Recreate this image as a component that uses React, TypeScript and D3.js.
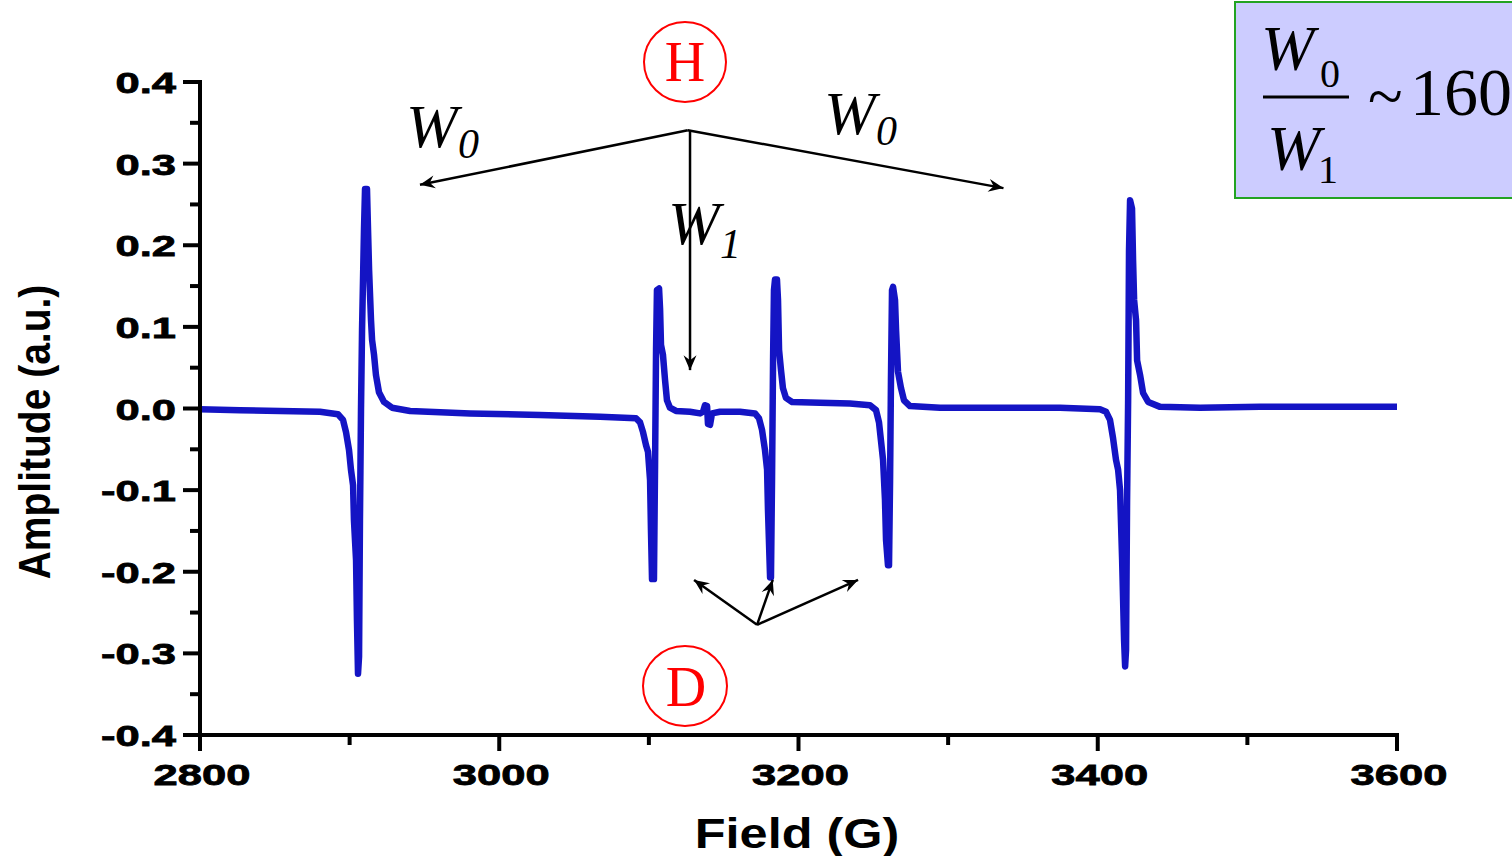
import React, { useEffect } from "react";
import * as d3 from "d3";

// EPR spectrum: magnetic field (G) vs. first-derivative amplitude (a.u.)
const fieldG: number[] = [
  2800, 2826.7, 2853.5, 2880.2, 2892.2, 2895.6, 2897.6, 2899.6, 2900.9, 2902.3,
  2902.9, 2904.3, 2904.9, 2905.6, 2906.3, 2906.9, 2907.6, 2908.3, 2909.6, 2910.3,
  2911.6, 2912.3, 2913, 2914.3, 2915, 2916.3, 2917.6, 2919.6, 2923, 2928.3,
  2940.4, 2980.5, 3027.2, 3067.3, 3091.4,
  3094.1, 3096.1, 3098.1, 3099.4, 3100.8, 3101.4, 3102.1, 3103.4, 3104.1, 3104.8,
  3105.4, 3106.8, 3107.5, 3108.1, 3109.4, 3110.8, 3112.1, 3114.1, 3118.1, 3127.5,
  3134.2, 3136.2, 3137.5, 3138.9, 3139.5, 3140.9, 3142.2, 3147.5, 3160.9, 3170.9,
  3173.6, 3175.6, 3177.6, 3179, 3179.6, 3181, 3181.6, 3182.3, 3183, 3183.6,
  3184.3, 3185.6, 3186.3, 3187, 3188.3, 3189.6, 3191.6, 3195.7, 3214.4, 3234.4,
  3247.8, 3251.8, 3253.8, 3255.1, 3256.5, 3257.8, 3258.5, 3259.8, 3260.5, 3261.2,
  3261.8, 3262.5, 3263.2, 3264.5, 3265.2, 3266.5, 3268.5, 3270.5, 3274.5, 3294.6,
  3334.7, 3374.8, 3401.5, 3405.5, 3408.2, 3410.2, 3412.2, 3413.6, 3414.9, 3416.3,
  3417.6, 3418.3, 3418.9, 3419.6, 3420.3, 3420.9, 3421.6, 3422.9, 3423.6, 3424.3,
  3425.6, 3426.3, 3428.3, 3430.3, 3433.7, 3441.7, 3468.4, 3508.5, 3555.3, 3600,
];

const amplitude: number[] = [
  -0.001, -0.002, -0.003, -0.004, -0.007, -0.014, -0.029, -0.051, -0.075, -0.094,
  -0.137, -0.186, -0.259, -0.325, -0.304, -0.137, -0.002, 0.096, 0.219, 0.269,
  0.269, 0.219, 0.17, 0.108, 0.084, 0.066, 0.041, 0.02, 0.008, 0.001,
  -0.003, -0.006, -0.008, -0.01, -0.012,
  -0.017, -0.029, -0.045, -0.053, -0.088, -0.149, -0.209, -0.209, -0.075, 0.072,
  0.145, 0.147, 0.121, 0.078, 0.066, 0.035, 0.01, 0.001, -0.003, -0.004,
  -0.006, -0.004, 0.004, 0.003, -0.019, -0.02, -0.006, -0.004, -0.004, -0.006,
  -0.012, -0.026, -0.051, -0.075, -0.124, -0.207, -0.207, -0.088, 0.059, 0.145,
  0.158, 0.158, 0.133, 0.072, 0.047, 0.025, 0.013, 0.008, 0.007, 0.006,
  0.004, -0.002, -0.017, -0.039, -0.063, -0.112, -0.161, -0.192, -0.192, -0.088,
  0.035, 0.145, 0.149, 0.133, 0.096, 0.045, 0.025, 0.01, 0.003, 0.001,
  0.001, 0.001, -0.001, -0.004, -0.014, -0.036, -0.063, -0.075, -0.1, -0.186,
  -0.284, -0.316, -0.296, -0.112, 0.01, 0.194, 0.255, 0.245, 0.182, 0.133,
  0.108, 0.059, 0.041, 0.019, 0.008, 0.002, 0.001, 0.002, 0.002, 0.002,
];

const xMajorTicks: number[] = [2800, 3000, 3200, 3400, 3600];
const xMinorTicks: number[] = [2900, 3100, 3300, 3500];
const yMajorTicks: number[] = [0.4, 0.3, 0.2, 0.1, 0.0, -0.1, -0.2, -0.3, -0.4];
const yMinorTicks: number[] = [0.35, 0.25, 0.15, 0.05, -0.05, -0.15, -0.25, -0.35];

// Arrow annotations in data units: [fromField, fromAmp, toField, toAmp]
const hArrows: number[][] = [
  [3126, 0.341, 2947, 0.274],
  [3126, 0.341, 3337, 0.27],
  [3127.5, 0.341, 3127.5, 0.047],
];
const dArrows: number[][] = [
  [3172.3, -0.265, 3130.2, -0.21],
  [3172.3, -0.265, 3182.8, -0.21],
  [3172.3, -0.265, 3239.8, -0.21],
];

const W = 1512;
const H = 856;

export default function App() {
  useEffect(() => {
    document.body.style.margin = "0";
    document.body.style.overflow = "hidden";
  }, []);

  const x = d3.scaleLinear().domain([2800, 3600]).range([200, 1397]);
  const y = d3.scaleLinear().domain([-0.4, 0.4]).range([735, 82]);

  const pts: [number, number][] = fieldG.map((f, i) => [f, amplitude[i]]);
  const linePath =
    d3
      .line<[number, number]>()
      .x((d) => x(d[0]))
      .y((d) => y(d[1]))(pts) || "";

  const sans = "'Liberation Sans', Arial, sans-serif";
  const serif = "'Liberation Serif', 'Times New Roman', serif";
  // plain hyphen for negative tick values
  const tickFmt = (v: number) => d3.format(".1f")(v).replace("\u2212", "-");

  return (
    <svg
      width={W}
      height={H}
      style={{ position: "absolute", left: 0, top: 0, background: "#fff" }}
    >
      <defs>
        <marker
          id="arrowHead"
          viewBox="-16 -8 18 16"
          markerWidth={18}
          markerHeight={16}
          refX={0}
          refY={0}
          orient="auto"
          markerUnits="userSpaceOnUse"
        >
          <path d="M0,0 L-15,-6.5 L-10,0 L-15,6.5 Z" fill="#000" />
        </marker>
      </defs>

      {/* spectrum trace */}
      <path
        d={linePath}
        fill="none"
        stroke="#1414c4"
        strokeWidth={6.5}
        strokeLinejoin="round"
      />

      {/* axes */}
      <g stroke="#000" strokeWidth={4} fill="none">
        <line x1={200} y1={80} x2={200} y2={737} />
        <line x1={198} y1={735} x2={1399} y2={735} />
        {yMajorTicks.map((t) => (
          <line key={"ym" + t} x1={183} x2={200} y1={y(t)} y2={y(t)} />
        ))}
        {yMinorTicks.map((t) => (
          <line key={"yn" + t} x1={190} x2={200} y1={y(t)} y2={y(t)} />
        ))}
        {xMajorTicks.map((t) => (
          <line key={"xm" + t} x1={x(t)} x2={x(t)} y1={735} y2={751} />
        ))}
        {xMinorTicks.map((t) => (
          <line key={"xn" + t} x1={x(t)} x2={x(t)} y1={735} y2={745} />
        ))}
      </g>

      {/* tick labels */}
      <g
        fontFamily={sans}
        fontWeight="bold"
        fontSize={30}
        fill="#000"
        stroke="#000"
        strokeWidth={0.8}
      >
        {yMajorTicks.map((t) => (
          <text
            key={"yl" + t}
            transform={`translate(176,${y(t) + 11}) scale(1.45,1)`}
            textAnchor="end"
          >
            {tickFmt(t)}
          </text>
        ))}
        {xMajorTicks.map((t) => (
          <text
            key={"xl" + t}
            transform={`translate(${x(t) + 2},785) scale(1.45,1)`}
            textAnchor="middle"
          >
            {t}
          </text>
        ))}
      </g>

      {/* axis titles */}
      <text
        transform="translate(797,848) scale(1.2,1)"
        textAnchor="middle"
        fontFamily={sans}
        fontWeight="bold"
        fontSize={42}
      >
        Field (G)
      </text>
      <text
        transform="translate(50,432) rotate(-90) scale(1,1.15)"
        textAnchor="middle"
        fontFamily={sans}
        fontWeight="bold"
        fontSize={39}
      >
        Amplitude (a.u.)
      </text>

      {/* arrows */}
      <g stroke="#000" strokeWidth={2.5} fill="none">
        {hArrows.concat(dArrows).map((a, i) => (
          <line
            key={"ar" + i}
            x1={x(a[0])}
            y1={y(a[1])}
            x2={x(a[2])}
            y2={y(a[3])}
            markerEnd="url(#arrowHead)"
          />
        ))}
      </g>

      {/* H and D markers */}
      <ellipse cx={685} cy={62} rx={41} ry={40} fill="none" stroke="#ff0000" strokeWidth={2} />
      <text x={685} y={81} textAnchor="middle" fontFamily={serif} fontSize={56} fill="#ff0000">
        H
      </text>
      <ellipse cx={685} cy={686} rx={42} ry={40} fill="none" stroke="#ff0000" strokeWidth={2} />
      <text x={686} y={706} textAnchor="middle" fontFamily={serif} fontSize={56} fill="#ff0000">
        D
      </text>

      {/* W labels */}
      <g fontFamily={serif} fontStyle="italic" fill="#000">
        <text x={406} y={147} fontSize={62}>W</text>
        <text x={458} y={158} fontSize={42}>0</text>
        <text x={824} y={134} fontSize={62}>W</text>
        <text x={876} y={145} fontSize={42}>0</text>
        <text x={668} y={244} fontSize={62}>W</text>
        <text x={720} y={258} fontSize={42}>1</text>
      </g>

      {/* ratio box */}
      <rect x={1235} y={2} width={290} height={196} fill="#ccccff" stroke="#22a322" strokeWidth={2} />
      <g fontFamily={serif} fill="#000">
        <text x={1261} y={70} fontSize={64} fontStyle="italic">W</text>
        <text x={1320} y={87} fontSize={40}>0</text>
        <line x1={1263} x2={1349} y1={97} y2={97} stroke="#000" strokeWidth={3} />
        <text x={1267} y={170} fontSize={64} fontStyle="italic">W</text>
        <text x={1318} y={183} fontSize={40}>1</text>
        <text x={1368} y={118} fontSize={64}>~</text>
        <text x={1410} y={115} fontSize={68}>160</text>
      </g>
    </svg>
  );
}
